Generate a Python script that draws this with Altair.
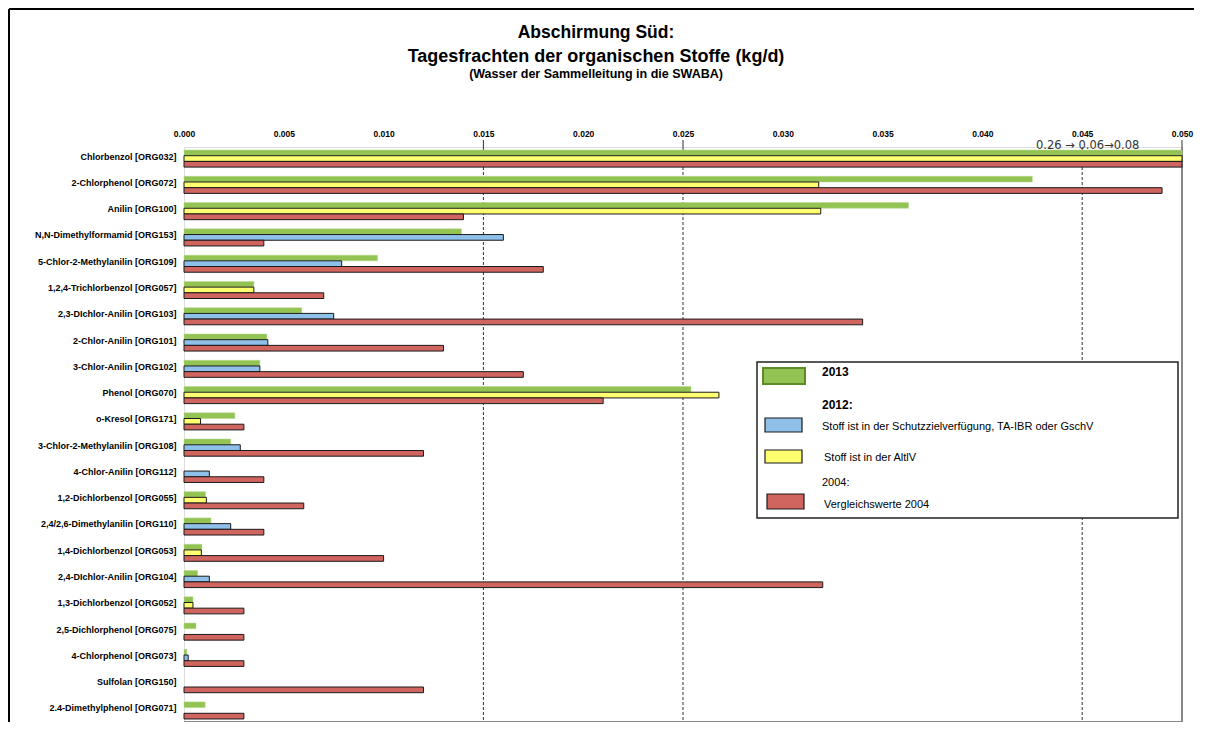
import altair as alt
import pandas as pd

substances = [
    "Chlorbenzol [ORG032]", "2-Chlorphenol [ORG072]", "Anilin [ORG100]",
    "N,N-Dimethylformamid [ORG153]", "5-Chlor-2-Methylanilin [ORG109]",
    "1,2,4-Trichlorbenzol [ORG057]", "2,3-DIchlor-Anilin [ORG103]",
    "2-Chlor-Anilin [ORG101]", "3-Chlor-Anilin [ORG102]", "Phenol [ORG070]",
    "o-Kresol [ORG171]", "3-Chlor-2-Methylanilin [ORG108]", "4-Chlor-Anilin [ORG112]",
    "1,2-Dichlorbenzol [ORG055]", "2,4/2,6-Dimethylanilin [ORG110]",
    "1,4-Dichlorbenzol [ORG053]", "2,4-DIchlor-Anilin [ORG104]",
    "1,3-Dichlorbenzol [ORG052]", "2,5-Dichlorphenol [ORG075]",
    "4-Chlorphenol [ORG073]", "Sulfolan [ORG150]", "2.4-Dimethylphenol [ORG071]",
]
v2013 = [0.08, 0.0425, 0.0363, 0.0139, 0.0097, 0.0035, 0.0059, 0.00415, 0.0038,
         0.0254, 0.00255, 0.00234, None, 0.00108, 0.00135, 0.0009, 0.00068,
         0.00045, 0.0006, 0.00014, None, 0.00106]
v2012 = [0.06, 0.0318, 0.0319, 0.0160, 0.0079, 0.0035, 0.0075, 0.0042, 0.0038,
         0.0268, 0.00083, 0.00282, 0.00127, 0.00112, 0.00234, 0.00087, 0.00127,
         0.00045, None, 0.00021, None, None]
kind2012 = ["gelb", "gelb", "gelb", "blau", "blau", "gelb", "blau", "blau", "blau",
            "gelb", "gelb", "blau", "blau", "gelb", "blau", "gelb", "blau",
            "gelb", "gelb", "blau", "gelb", "gelb"]
v2004 = [0.26, 0.049, 0.0140, 0.0040, 0.0180, 0.0070, 0.0340, 0.0130, 0.0170,
         0.0210, 0.0030, 0.0120, 0.0040, 0.0060, 0.0040, 0.0100, 0.0320,
         0.0030, 0.0030, 0.0030, 0.0120, 0.0030]
x_ticks = [0.0, 0.005, 0.01, 0.015, 0.02, 0.025, 0.03, 0.035, 0.04, 0.045, 0.05]
grid_dashed = [0.015, 0.025, 0.045]
top_ticks = [0.015, 0.025, 0.05]

rows = []
for i, s in enumerate(substances):
    if v2013[i] is not None:
        rows.append({"stoff": s, "serie": "2013", "wert": v2013[i], "art": "2013"})
    if v2012[i] is not None:
        rows.append({"stoff": s, "serie": "2012", "wert": v2012[i], "art": "2012 " + kind2012[i]})
    if v2004[i] is not None:
        rows.append({"stoff": s, "serie": "2004", "wert": v2004[i], "art": "2004"})
df = pd.DataFrame(rows)

W, H = 998, 575
FONT = "Liberation Sans"
GREEN, BLUE, YELLOW, RED = "#93c353", "#8ec0ea", "#ffff70", "#d0645e"

xscale = alt.Scale(domain=[0, 0.05], clamp=True, nice=False, zero=True)
yscale = alt.Scale(domain=substances, paddingInner=0.35, paddingOuter=0.115)
yoff = alt.YOffset("serie:N", scale=alt.Scale(domain=["2013", "2012", "2004"], paddingInner=0, paddingOuter=0))
colscale = alt.Scale(domain=["2013", "2012 blau", "2012 gelb", "2004"], range=[GREEN, BLUE, YELLOW, RED])

base = alt.Chart(df)
green_bars = base.transform_filter(alt.datum.serie == "2013").mark_bar(
    cornerRadius=0, stroke="#b9d98f", strokeWidth=0.5
).encode(
    x=alt.X("wert:Q", scale=xscale,
            axis=alt.Axis(orient="top", values=x_ticks, format=".3f", ticks=False, domain=False,
                          grid=False, title=None, labelFont=FONT, labelFontWeight="bold",
                          labelFontSize=8.5, labelPadding=9, labelFlush=False, labelOverlap=False,
                          labelColor="black")),
    y=alt.Y("stoff:N", scale=yscale, sort=substances,
            axis=alt.Axis(ticks=False, domain=False, grid=False, title=None, labelFont=FONT,
                          labelFontWeight="bold", labelFontSize=9, labelPadding=8, labelLimit=300,
                          labelOffset=-2, labelColor="black")),
    yOffset=yoff,
    color=alt.Color("art:N", scale=colscale, legend=None),
)
other_bars = base.transform_filter(alt.datum.serie != "2013").mark_bar(
    cornerRadius=0, stroke="#1a1a1a", strokeWidth=1
).encode(
    x=alt.X("wert:Q", scale=xscale),
    y=alt.Y("stoff:N", scale=yscale, sort=substances),
    yOffset=yoff,
    color=alt.Color("art:N", scale=colscale, legend=None),
)

grid = alt.Chart(pd.DataFrame({"v": grid_dashed})).mark_rule(
    color="#333333", strokeDash=[3, 2], strokeWidth=1
).encode(x=alt.X("v:Q", scale=xscale), y=alt.value(0), y2=alt.value(H))

tick_marks = alt.Chart(pd.DataFrame({"v": top_ticks})).mark_rule(
    color="#333333", strokeWidth=1
).encode(x=alt.X("v:Q", scale=xscale), y=alt.value(-7), y2=alt.value(0))

right_border = alt.Chart(pd.DataFrame({"v": [0.05]})).mark_rule(
    color="#888888", strokeWidth=2
).encode(x=alt.X("v:Q", scale=xscale), y=alt.value(0), y2=alt.value(H))

bottom_border = alt.Chart(pd.DataFrame({"a": [0.0], "b": [0.05]})).mark_rule(
    color="#888888", strokeWidth=2
).encode(x=alt.X("a:Q", scale=xscale), x2="b:Q", y=alt.value(H))

one = pd.DataFrame({"d": [0]})


def rule(x, y, x2=None, y2=None, color="black", width=2):
    enc = {"x": alt.value(x), "y": alt.value(y)}
    if x2 is not None:
        enc["x2"] = alt.value(x2)
    if y2 is not None:
        enc["y2"] = alt.value(y2)
    return alt.Chart(one).mark_rule(color=color, strokeWidth=width).encode(**enc)


def text(t, x, y, size, weight="normal", align="left", color="black", font=FONT):
    return alt.Chart(one).mark_text(
        text=t, font=font, fontSize=size, fontWeight=weight, align=align,
        baseline="middle", color=color
    ).encode(x=alt.value(x), y=alt.value(y))


def box(x, y, x2, y2, fill, stroke, width=1):
    return alt.Chart(one).mark_rect(fill=fill, stroke=stroke, strokeWidth=width).encode(
        x=alt.value(x), x2=alt.value(x2), y=alt.value(y), y2=alt.value(y2))


frame = [
    rule(-175, -138, x2=1040, color="black", width=2),
    rule(-175, -138, y2=H + 20, color="black", width=2),
]
titles = [
    text("Abschirmung Süd:", 412, -114, 17.5, "bold", "center"),
    text("Tagesfrachten der organischen Stoffe (kg/d)", 412, -90, 18, "bold", "center"),
    text("(Wasser der Sammelleitung in die SWABA)", 412, -73, 12.5, "bold", "center"),
]
annot = [text("0.26 → 0.06→0.08", 852, -1, 11.5, "normal", "left", "#333333", "DejaVu Sans")]

legend = [
    box(573, 215, 994, 371, "white", "#222222", 1.5),
    box(579, 221, 621, 237, GREEN, "#5f8a2e", 2),
    box(581, 271, 618, 285, BLUE, "#1a1a1a", 1.2),
    box(581, 303, 618, 316, YELLOW, "#1a1a1a", 1.2),
    box(583, 347, 620, 362, RED, "#1a1a1a", 1.2),
    text("2013", 638, 225, 12, "bold"),
    text("2012:", 638, 258, 12, "bold"),
    text("Stoff ist in der Schutzzielverfügung, TA-IBR oder GschV", 638, 280, 11),
    text(" Stoff ist in der AltlV", 640, 311, 11),
    text("2004:", 638, 336, 11),
    text(" Vergleichswerte 2004", 640, 358, 11),
]

chart = alt.layer(
    grid, tick_marks, right_border, bottom_border, green_bars, other_bars,
    *frame, *titles, *annot, *legend
).properties(
    width=W, height=H,
    padding={"left": 176, "top": 139, "right": 12, "bottom": 0},
    autosize=alt.AutoSizeParams(type="none"),
).configure_view(stroke=None).configure(background="white")

chart.save("out.html", embed_options={"renderer": "svg", "actions": False})
